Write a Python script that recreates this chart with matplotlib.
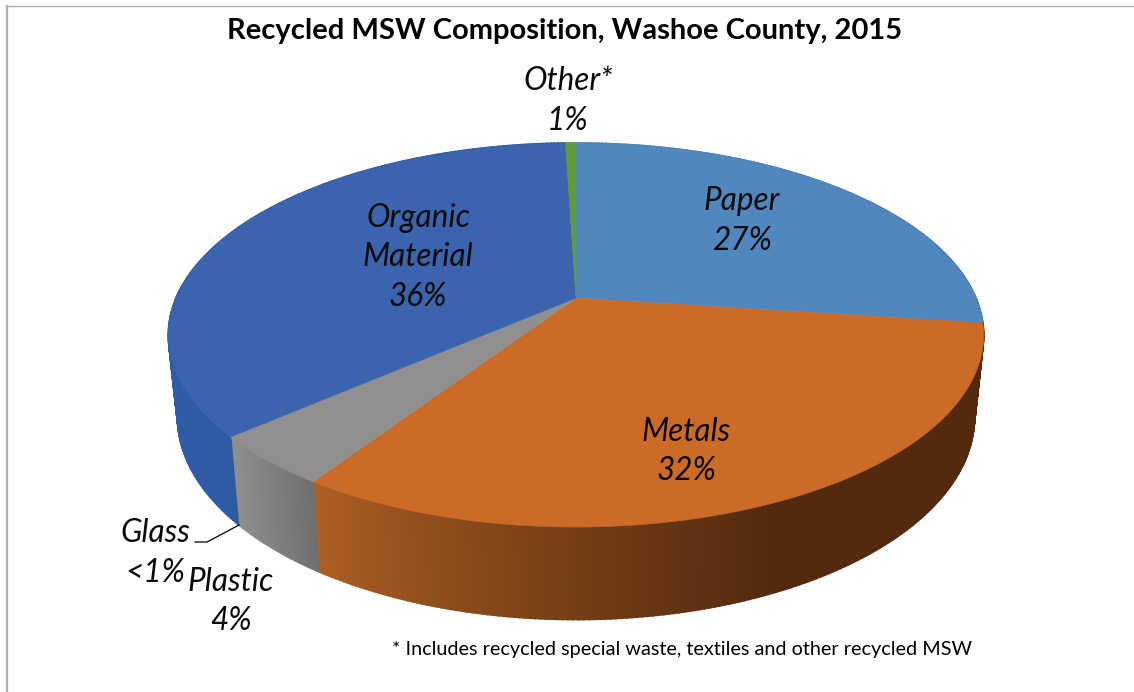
import matplotlib
matplotlib.use("Agg")
import matplotlib.pyplot as plt
import numpy as np
from matplotlib.colors import to_rgb

# shares, clockwise from 12 o'clock
categories = ['Paper', 'Metals', 'Plastic', 'Glass', 'Organic Material', 'Other']
shares = [27.1, 32.2, 4.0, 0.3, 35.9, 0.5]
top_colors = ['#5087BE', '#CC6B28', '#8F8F8F', '#8F8F8F', '#3B63AE', '#5F9B38']
# wall colours: left end and right end of the gradient
wall_left = ['#5087BE', '#B06122', '#8E8E8E', '#8E8E8E', '#2F5CA6', '#5F9B38']
wall_right = ['#3A6A9A', '#532A0E', '#6F6F6F', '#8E8E8E', '#2C5594', '#5F9B38']
labels = [('Other*\n1%', 568, 81), ('Paper\n27%', 742, 201), ('Organic\nMaterial\n36%', 418, 218),
          ('Metals\n32%', 686, 432), ('Glass\n<1%', 155, 533), ('Plastic\n4%', 231, 582)]
title = 'Recycled MSW Composition, Washoe County, 2015'
footnote = '* Includes recycled special waste, textiles and other recycled MSW'

plt.rcParams['font.family'] = ['Lato', 'DejaVu Sans']

k = 0.1927

def rim(theta, a, b, cy):
    # circle seen in perspective
    u, v = np.sin(theta), np.cos(theta)
    w = 1 + k * v
    return 576 + a * u / w, cy - b * v / w

def top_rim(theta):
    return rim(theta, 400, 184.9, 298)

def bottom_rim(theta):
    return rim(theta, 391, 195, 378)

fig = plt.figure(figsize=(11.34, 6.92), dpi=100)
ax = fig.add_axes([0, 0, 1, 1])
ax.set_xlim(0, 1134)
ax.set_ylim(692, 0)
ax.axis('off')

edges = np.cumsum([0] + shares) / sum(shares) * 2 * np.pi

# side wall, cut in thin strips for the shading
for i in range(len(shares)):
    n = max(2, int((edges[i + 1] - edges[i]) * 90))
    t = np.linspace(edges[i], edges[i + 1], n + 1)
    xt, yt = top_rim(t)
    xb, yb = bottom_rim(t)
    x0, x1 = xt.min(), xt.max()
    c0, c1 = np.array(to_rgb(wall_left[i])), np.array(to_rgb(wall_right[i]))
    for j in range(n):
        f = (xt[j] - x0) / max(x1 - x0, 1)
        if categories[i] == 'Metals':
            f = min(1, f * 1.45) ** 0.8
        c = c0 + (c1 - c0) * f
        ax.fill([xt[j], xt[j + 1], xb[j + 1], xb[j]], [yt[j], yt[j + 1], yb[j + 1], yb[j]],
                color=c, lw=1.2, zorder=2)

# top face
for i in range(len(shares)):
    t = np.linspace(edges[i], edges[i + 1], 200)
    xt, yt = top_rim(t)
    ax.fill(np.r_[576, xt], np.r_[298, yt], color=top_colors[i], lw=0.4, zorder=3)

# leader line for Glass
ax.plot([239, 207, 195], [525, 542, 542], color='black', lw=0.9, zorder=4)

ax.text(565, 31, title, fontsize=21, fontweight='bold', ha='center', va='center', color='black')
ax.text(682.5, 650, footnote, fontsize=14.3, ha='center', va='center', color='black')
for txt, x, y in labels:
    for n, line in enumerate(txt.split('\n')):
        ax.text(x, y + n * 39.5, line, fontsize=22.7, style='italic', ha='center', va='center',
                color='#0A0A0A', zorder=5)

# chart frame, only top and left are in the picture
ax.plot([7, 7], [6, 692], color='#B0B0B0', lw=1.6, zorder=1)
ax.plot([7, 1134], [6, 6], color='#B0B0B0', lw=1.0, zorder=1)

fig.savefig('out.png', dpi=100)
